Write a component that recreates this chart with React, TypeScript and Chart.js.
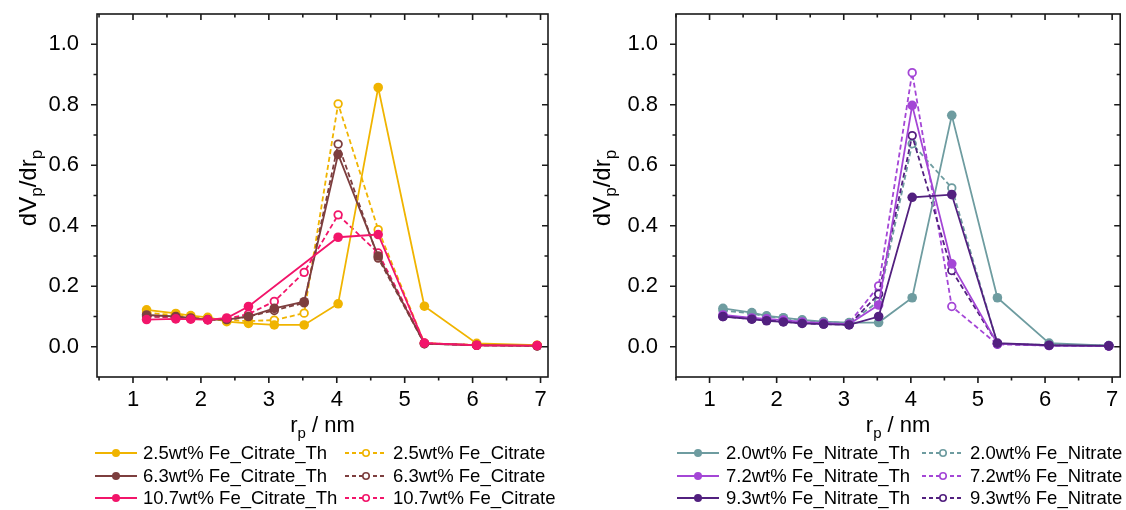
import React, { useEffect, useRef } from "react";
import { Chart, registerables } from "chart.js";

Chart.register(...registerables);

// ---------- data ----------
const RADII = [1.2, 1.63, 1.85, 2.1, 2.38, 2.7, 3.08, 3.52, 4.02, 4.61, 5.29, 6.06, 6.95];

const CIT_TH_25 = [0.122, 0.11, 0.103, 0.097, 0.083, 0.077, 0.072, 0.072, 0.142, 0.857, 0.134, 0.011, 0.005];
const CIT_TH_63 = [0.105, 0.1, 0.095, 0.09, 0.09, 0.1, 0.127, 0.149, 0.636, 0.3, 0.01, 0.005, 0.003];
const CIT_TH_107 = [0.09, 0.092, 0.091, 0.089, 0.095, 0.133, null, null, 0.362, 0.371, 0.012, 0.005, 0.004];
const CIT_25 = [0.112, 0.105, 0.1, 0.095, 0.088, 0.085, 0.088, 0.111, 0.803, 0.387, 0.012, 0.006, 0.004];
const CIT_63 = [0.1, 0.097, 0.094, 0.09, 0.088, 0.1, 0.12, 0.145, 0.67, 0.293, 0.01, 0.005, 0.003];
const CIT_107 = [0.102, 0.097, 0.094, 0.09, 0.092, 0.108, 0.15, 0.246, 0.436, 0.31, 0.012, 0.005, 0.004];

const NIT_TH_20 = [0.127, 0.113, 0.102, 0.096, 0.089, 0.083, 0.08, 0.08, 0.162, 0.765, 0.162, 0.012, 0.004];
const NIT_TH_72 = [0.105, 0.095, 0.092, 0.088, 0.082, 0.078, 0.075, 0.138, 0.798, 0.274, 0.01, 0.004, 0.003];
const NIT_TH_93 = [0.1, 0.091, 0.086, 0.082, 0.077, 0.075, 0.072, 0.1, 0.494, 0.503, 0.012, 0.005, 0.003];
const NIT_20 = [0.12, 0.11, 0.1, 0.095, 0.087, 0.082, 0.078, 0.15, 0.671, 0.525, 0.01, 0.006, 0.004];
const NIT_72 = [0.1, 0.095, 0.09, 0.085, 0.08, 0.077, 0.078, 0.201, 0.906, 0.133, 0.008, 0.004, 0.003];
const NIT_93 = [0.1, 0.092, 0.088, 0.083, 0.078, 0.075, 0.073, 0.174, 0.698, 0.252, 0.01, 0.005, 0.003];

const CIT_LABELS = [
  "2.5wt% Fe_Citrate_Th", "6.3wt% Fe_Citrate_Th", "10.7wt% Fe_Citrate_Th",
  "2.5wt% Fe_Citrate", "6.3wt% Fe_Citrate", "10.7wt% Fe_Citrate",
];
const NIT_LABELS = [
  "2.0wt% Fe_Nitrate_Th", "7.2wt% Fe_Nitrate_Th", "9.3wt% Fe_Nitrate_Th",
  "2.0wt% Fe_Nitrate", "7.2wt% Fe_Nitrate", "9.3wt% Fe_Nitrate",
];

const X_TICKS = [1, 2, 3, 4, 5, 6, 7];
const X_MINOR = [0.5, 1.5, 2.5, 3.5, 4.5, 5.5, 6.5];
const Y_TICKS = [0, 0.2, 0.4, 0.6, 0.8, 1.0];
const Y_MINOR = [0.1, 0.3, 0.5, 0.7, 0.9];

// ---------- styles ----------
const CIT_COLORS = ["#F0B400", "#7D3E3E", "#F2156A"];
const NIT_COLORS = ["#6E9CA0", "#A446D6", "#52207F"];
const FONT = "'Liberation Sans', Arial, sans-serif";

type Panel = {
  left: number;
  xMin: number;
  xMax: number;
  yWidth: number;
  padRight: number;
  series: (number | null)[][];
  labels: string[];
  colors: string[];
  legendCols: { line: number; text: number }[];
  yTitleX: number;
};

const PANELS: Panel[] = [
  {
    left: 0,
    xMin: 0.47,
    xMax: 7.11,
    yWidth: 97,
    padRight: 15,
    series: [CIT_TH_25, CIT_TH_63, CIT_TH_107, CIT_25, CIT_63, CIT_107],
    labels: CIT_LABELS,
    colors: CIT_COLORS,
    legendCols: [{ line: 95, text: 143 }, { line: 345, text: 393 }],
    yTitleX: 36,
  },
  {
    left: 563,
    xMin: 0.5,
    xMax: 7.12,
    yWidth: 113,
    padRight: 1,
    series: [NIT_TH_20, NIT_TH_72, NIT_TH_93, NIT_20, NIT_72, NIT_93],
    labels: NIT_LABELS,
    colors: NIT_COLORS,
    legendCols: [{ line: 114, text: 163 }, { line: 359, text: 407 }],
    yTitleX: 47,
  },
];

const LEGEND_ROWS = [453, 476, 498];

function drawRich(ctx: CanvasRenderingContext2D, parts: { t: string; sub?: boolean }[], cx: number, by: number, size: number, subSize: number) {
  const widths = parts.map((p) => {
    ctx.font = `${p.sub ? subSize : size}px ${FONT}`;
    return ctx.measureText(p.t).width;
  });
  const total = widths.reduce((a, b) => a + b, 0);
  let x = cx - total / 2;
  ctx.textAlign = "left";
  ctx.textBaseline = "alphabetic";
  parts.forEach((p, i) => {
    ctx.font = `${p.sub ? subSize : size}px ${FONT}`;
    ctx.fillText(p.t, x, by + (p.sub ? size * 0.25 : 0));
    x += widths[i];
  });
}

function makeDecor(panel: Panel) {
  return {
    id: "decor",
    afterDraw(chart: any) {
      const { ctx, chartArea: a } = chart;
      const xs = chart.scales.x;
      const ys = chart.scales.y;
      ctx.save();
      ctx.strokeStyle = "#1a1a1a";
      ctx.lineWidth = 1.6;
      ctx.setLineDash([]);
      ctx.strokeRect(a.left, a.top, a.right - a.left, a.bottom - a.top);
      ctx.beginPath();
      const xt = (v: number, len: number) => {
        if (v < panel.xMin || v > panel.xMax) return;
        const p = xs.getPixelForValue(v);
        ctx.moveTo(p, a.bottom);
        ctx.lineTo(p, a.bottom + len);
        ctx.moveTo(p, a.top);
        ctx.lineTo(p, a.top + len);
      };
      const yt = (v: number, len: number) => {
        const p = ys.getPixelForValue(v);
        ctx.moveTo(a.left - len, p);
        ctx.lineTo(a.left, p);
        ctx.moveTo(a.right - len, p);
        ctx.lineTo(a.right, p);
      };
      X_TICKS.forEach((v) => xt(v, 6));
      X_MINOR.forEach((v) => xt(v, 3.5));
      Y_TICKS.forEach((v) => yt(v, 6));
      Y_MINOR.forEach((v) => yt(v, 3.5));
      ctx.stroke();

      ctx.fillStyle = "#000";
      // x title
      drawRich(ctx, [{ t: "r" }, { t: "p", sub: true }, { t: " / nm" }], (a.left + a.right) / 2, 432, 22, 15);
      // y title
      ctx.save();
      ctx.translate(panel.yTitleX, 188);
      ctx.rotate(-Math.PI / 2);
      drawRich(ctx, [{ t: "dV" }, { t: "p", sub: true }, { t: "/dr" }, { t: "p", sub: true }], 0, 0, 24, 17);
      ctx.restore();

      // legend
      panel.labels.forEach((label, i) => {
        const col = panel.legendCols[i < 3 ? 0 : 1];
        const row = LEGEND_ROWS[i % 3];
        const color = panel.colors[i % 3];
        const open = i >= 3;
        ctx.strokeStyle = color;
        ctx.lineWidth = 1.8;
        ctx.setLineDash(open ? [4, 3] : []);
        ctx.beginPath();
        ctx.moveTo(col.line, row);
        ctx.lineTo(col.line + 42, row);
        ctx.stroke();
        ctx.setLineDash([]);
        ctx.beginPath();
        ctx.arc(col.line + 21, row, open ? 3.2 : 4, 0, Math.PI * 2);
        ctx.fillStyle = open ? "#fff" : color;
        ctx.fill();
        if (open) {
          ctx.lineWidth = 1.6;
          ctx.stroke();
        }
        ctx.fillStyle = "#000";
        ctx.font = `18.5px ${FONT}`;
        ctx.textAlign = "left";
        ctx.textBaseline = "middle";
        ctx.fillText(label, col.text, row + 1);
      });
      ctx.restore();
    },
  };
}

function PanelChart({ panel }: { panel: Panel }) {
  const ref = useRef<HTMLCanvasElement>(null);
  useEffect(() => {
    if (!ref.current) return;
    const datasets = panel.series.map((vals, i) => {
      const open = i >= 3;
      const color = panel.colors[i % 3];
      const pts = RADII.map((x, k) => ({ x, y: vals[k] })).filter((p) => p.y !== null);
      const drawOrder = open ? 5 - (i - 3) : 2 - i;
      return {
        label: panel.labels[i],
        data: pts,
        borderColor: color,
        backgroundColor: color,
        borderWidth: 1.8,
        borderDash: open ? [5, 3] : [],
        pointRadius: open ? 3.8 : 4.8,
        pointBorderWidth: open ? 1.8 : 0,
        pointBackgroundColor: open ? "#ffffff" : color,
        pointBorderColor: color,
        tension: 0,
        order: drawOrder,
      };
    });
    const chart = new Chart(ref.current, {
      type: "line",
      data: { datasets } as any,
      options: {
        responsive: false,
        animation: false,
        layout: { padding: { left: 0, right: panel.padRight, top: 14, bottom: 103 } },
        plugins: { legend: { display: false }, tooltip: { enabled: false } },
        scales: {
          x: {
            type: "linear",
            min: panel.xMin,
            max: panel.xMax,
            clip: false,
            afterBuildTicks: (s: any) => {
              s.ticks = X_TICKS.map((v) => ({ value: v }));
            },
            afterFit: (s: any) => {
              s.height = 30;
              s.paddingLeft = 0;
              s.paddingRight = 0;
            },
            grid: { display: false },
            border: { display: false },
            ticks: {
              color: "#000",
              font: { family: FONT, size: 22 },
              padding: 2,
              maxRotation: 0,
              autoSkip: false,
              callback: (v: any) => String(v),
            },
          },
          y: {
            type: "linear",
            min: -0.1,
            max: 1.1,
            clip: false,
            afterBuildTicks: (s: any) => {
              s.ticks = Y_TICKS.map((v) => ({ value: v }));
            },
            afterFit: (s: any) => {
              s.width = panel.yWidth;
              s.paddingTop = 0;
              s.paddingBottom = 0;
            },
            grid: { display: false },
            border: { display: false },
            ticks: {
              color: "#000",
              font: { family: FONT, size: 22 },
              padding: 10,
              autoSkip: false,
              callback: (v: any) => Number(v).toFixed(1),
            },
          },
        },
      },
      plugins: [makeDecor(panel)],
    } as any);
    return () => chart.destroy();
  }, [panel]);
  return (
    <canvas
      ref={ref}
      width={563}
      height={510}
      style={{ position: "absolute", left: panel.left, top: 0, width: 563, height: 510 }}
    />
  );
}

export default function App() {
  return (
    <div style={{ position: "absolute", left: 0, top: 0, width: 1126, height: 510, background: "#fff", overflow: "hidden" }}>
      {PANELS.map((p, i) => (
        <PanelChart key={i} panel={p} />
      ))}
    </div>
  );
}
